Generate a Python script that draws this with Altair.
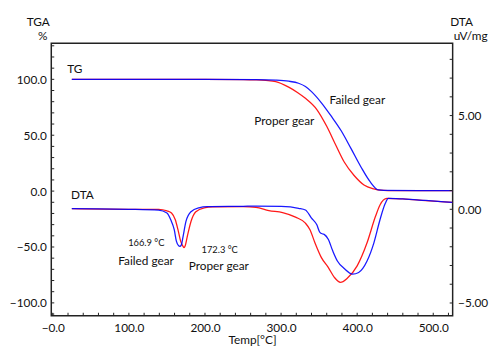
import altair as alt
import pandas as pd

# ---------------- data ----------------
tg_proper_x = [25, 100, 200, 250, 267, 280, 293, 310, 322, 332, 347, 360, 372, 383, 396, 409, 422, 430, 440, 525]
tg_proper_y = [100, 100, 100, 99.8, 99.5, 99, 98, 93, 88, 83, 73, 58, 41, 26, 14, 5.5, 2, 0.8, 0.5, 0.4]

tg_failed_x = [25, 100, 200, 267, 293, 310, 323, 332, 340, 353, 366, 379, 392, 405, 417, 428, 435, 525]
tg_failed_y = [100, 100, 100, 99.8, 99.3, 98.3, 96.5, 93.6, 89, 79, 67, 54, 38, 21.6, 8.4, 1, 0.6, 0.5]

dta_proper_x = [25, 100, 139, 150, 156, 161, 164.5, 168, 171, 172.5, 174, 176.5, 181.6, 188, 199, 210, 250, 267, 284,
                302, 319, 332, 338, 344.5, 353, 362, 370, 378, 387, 400, 413, 424, 430, 439, 460, 490, 525]
dta_proper_y = [0.03, 0.0, 0.0, -0.08, -0.2, -0.56, -1.09, -1.7, -1.97, -2.05, -1.95, -1.5, -0.65, -0.13, 0.08, 0.13,
                0.14, 0.1, -0.07, -0.18, -0.42, -0.74, -1.09, -1.79, -2.58, -3.1, -3.63, -3.9, -3.68, -3.02, -1.79,
                -0.39, 0.23, 0.58, 0.55, 0.46, 0.37]

dta_failed_x = [25, 60, 100, 139, 150, 155, 159.6, 162.4, 165.4, 167, 169, 171, 175, 181.6, 192, 203, 250, 267, 300,
                323, 332, 340, 347, 351, 355, 357, 362, 368, 374, 383, 394, 402, 413, 422, 430, 437, 441, 460, 490, 525]
dta_failed_y = [0.03, 0.02, 0.0, -0.04, -0.2, -0.56, -1.09, -1.7, -1.95, -1.98, -1.9, -1.5, -0.65, -0.13, 0.08, 0.14,
                0.16, 0.17, 0.15, 0.05, -0.04, -0.47, -0.83, -1.23, -1.32, -1.35, -1.6, -2.23, -2.76, -3.16, -3.46,
                -3.37, -2.76, -1.79, -0.56, 0.32, 0.58, 0.55, 0.47, 0.37]

series_names = ["Proper gear", "Failed gear"]
series_colors = ["#ff0000", "#0000ff"]

# annotations placed in TG (left axis) coordinates
ann_text = ["TG", "DTA", "Failed gear", "Proper gear", "166.9 \u00b0C", "Failed gear", "172.3 \u00b0C", "Proper gear"]
ann_x = [19, 24, 363.8, 264.8, 99, 86, 195.4, 178.7]
ann_y = [109.4, -3.3, 81.2, 62.7, -46.5, -62.4, -52.7, -66.8]
ann_size = [12, 12, 12, 12, 9.5, 12, 9.5, 12]

left_title, left_unit = "TGA", "%"
right_title, right_unit = "DTA", "uV/mg"
x_title = "Temp[\u00b0C]"

x_tick_values = list(range(0, 521, 20))
x_label_values = [0, 100, 200, 300, 400, 500]
tg_tick_values = list(range(-110, 131, 10))
tg_label_values = [-100, -50, 0, 50, 100]
dta_tick_values = list(range(-5, 9, 1))
dta_label_values = [-5, 0, 5]

X_DOM = [-2, 525.5]
TG_DOM = [-111.5, 132.3]
DTA_DOM = [-5.68, 8.86]
W, H = 408, 277
FONT = "Lato"

# ---------------- tables ----------------
tg_df = pd.concat([
    pd.DataFrame({"t": tg_proper_x, "v": tg_proper_y, "s": series_names[0]}),
    pd.DataFrame({"t": tg_failed_x, "v": tg_failed_y, "s": series_names[1]}),
])
dta_df = pd.concat([
    pd.DataFrame({"t": dta_proper_x, "v": dta_proper_y, "s": series_names[0]}),
    pd.DataFrame({"t": dta_failed_x, "v": dta_failed_y, "s": series_names[1]}),
])
ann_df = pd.DataFrame({"text": ann_text, "t": ann_x, "v": ann_y, "fs": ann_size})
xt_df = pd.DataFrame({"t": x_tick_values})
tgt_df = pd.DataFrame({"v": tg_tick_values})
dtat_df = pd.DataFrame({"v": dta_tick_values})

xs = alt.Scale(domain=X_DOM, nice=False, zero=False)
tgs = alt.Scale(domain=TG_DOM, nice=False, zero=False)
dtas = alt.Scale(domain=DTA_DOM, nice=False, zero=False)
cs = alt.Scale(domain=series_names, range=series_colors)

common = dict(tickSize=0, domain=False, grid=False, labelFont=FONT, labelFontSize=12, labelColor="#111",
              labelFlush=False, labelOverlap=False, titleFont=FONT, titleFontSize=12,
              titleFontWeight="normal", titleColor="#111")

x_axis = alt.Axis(
    values=x_label_values,
    labelExpr="datum.value == 0 ? '\u22120.0' : format(datum.value, '.1f')",
    labelPadding=7, title=x_title, titleY=19, titleBaseline="top", **common,
)
tg_axis = alt.Axis(
    values=tg_label_values, format=".1f", orient="left", labelPadding=5,
    title=left_title, titleAngle=0, titleAlign="right", titleBaseline="alphabetic",
    titleX=-2, titleY=-18, **common,
)
dta_axis = alt.Axis(
    values=dta_label_values, format=".2f", orient="right", labelPadding=5,
    title=right_title, titleAngle=0, titleAlign="left", titleBaseline="alphabetic",
    titleX=-3, titleY=-18, **common,
)

X = alt.X("t:Q", scale=xs, axis=x_axis)
Y_TG = alt.Y("v:Q", scale=tgs, axis=tg_axis)
Y_DTA = alt.Y("v:Q", scale=dtas, axis=dta_axis)

tg_lines = alt.Chart(tg_df).mark_line(strokeWidth=1.3, opacity=0.9, interpolate="monotone").encode(
    x=X, y=Y_TG,
    color=alt.Color("s:N", scale=cs, legend=None),
    detail="s:N",
)
ann = alt.Chart(ann_df).mark_text(align="left", baseline="middle", font=FONT, color="#111").encode(
    x=X, y=Y_TG,
    text="text:N",
    size=alt.Size("fs:Q", scale=None, legend=None),
)
x_ticks = alt.Chart(xt_df).mark_rule(color="#222", strokeWidth=1).encode(
    x=X,
    y=alt.value(H),
    y2=alt.value(H - 3),
)
tg_ticks = alt.Chart(tgt_df).mark_rule(color="#222", strokeWidth=1).encode(
    y=Y_TG,
    x=alt.value(0),
    x2=alt.value(3),
)
# unit lines under the axis titles
left_unit_txt = alt.Chart(pd.DataFrame({"u": [left_unit]})).mark_text(
    align="right", baseline="alphabetic", font=FONT, fontSize=12, color="#111"
).encode(text="u:N", x=alt.value(-4), y=alt.value(-3))
right_unit_txt = alt.Chart(pd.DataFrame({"u": [right_unit]})).mark_text(
    align="left", baseline="alphabetic", font=FONT, fontSize=12, color="#111"
).encode(text="u:N", x=alt.value(W + 1), y=alt.value(-3))

tg_group = alt.layer(tg_lines, ann, x_ticks, tg_ticks, left_unit_txt, right_unit_txt)

dta_lines = alt.Chart(dta_df).mark_line(strokeWidth=1.3, opacity=0.9, interpolate="monotone").encode(
    x=X, y=Y_DTA,
    color=alt.Color("s:N", scale=cs, legend=None),
    detail="s:N",
)
dta_ticks = alt.Chart(dtat_df).mark_rule(color="#222", strokeWidth=1).encode(
    y=Y_DTA,
    x=alt.value(W),
    x2=alt.value(W - 3),
)
dta_group = alt.layer(dta_lines, dta_ticks)

chart = alt.layer(tg_group, dta_group).resolve_scale(y="independent", color="shared").properties(
    width=W, height=H,
    autosize=alt.AutoSizeParams(type="none"),
    padding={"left": 44, "top": 33, "right": 40, "bottom": 31},
    background="white",
).configure_view(stroke="#222", strokeWidth=1.5)

chart.save("out.html", embed_options={"renderer": "svg", "actions": False})
